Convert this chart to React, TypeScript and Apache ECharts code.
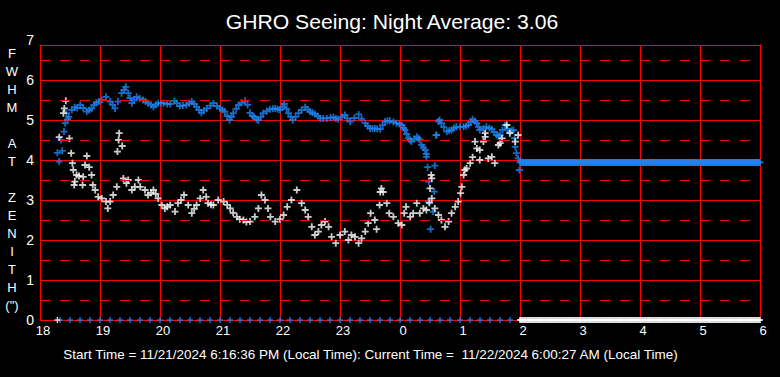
import React, { useEffect, useRef } from "react";
import * as echarts from "echarts";

const TITLE = "GHRO Seeing: Night Average: 3.06";
const FOOTER =
  "Start Time = 11/21/2024 6:16:36 PM (Local Time): Current Time =  11/22/2024 6:00:27 AM (Local Time)";
const Y_TITLE_LINES = ["F", "W", "H", "M", " ", "A", "T", " ", "Z", "E", "N", "I", "T", "H", "(\")"];

// hours since midnight of start day (24+ = next morning)
const X_MIN = 18;
const X_MAX = 30;
const Y_LABEL_MAX = 7;
const Y_PLOT_MAX = 6.875;
const HALF_LEVELS = [0.5, 1.5, 2.5, 3.5, 4.5, 5.5, 6.5];

// blue seeing samples [hour, FWHM]
const blueSeeing: [number, number][] = [
  [18.29, 4.18], [18.32, 3.96], [18.35, 4.5], [18.37, 4.23], [18.4, 4.71], [18.42, 4.92],
  [18.44, 5.17], [18.46, 5.02], [18.48, 5.08], [18.53, 5.25], [18.58, 5.32], [18.62, 5.3],
  [18.67, 5.38], [18.72, 5.3], [18.78, 5.21], [18.82, 5.25], [18.86, 5.29], [18.9, 5.38],
  [18.94, 5.43], [18.98, 5.46], [19.03, 5.5], [19.1, 5.58], [19.17, 5.46], [19.21, 5.38],
  [19.25, 5.29], [19.3, 5.46], [19.36, 5.67], [19.4, 5.75], [19.43, 5.83], [19.47, 5.67],
  [19.5, 5.55], [19.53, 5.42], [19.57, 5.5], [19.61, 5.58], [19.66, 5.54], [19.72, 5.5],
  [19.76, 5.46], [19.8, 5.42], [19.85, 5.38], [19.89, 5.33], [19.93, 5.38], [19.97, 5.42],
  [20.02, 5.42], [20.06, 5.42], [20.12, 5.4], [20.17, 5.4], [20.24, 5.48], [20.28, 5.42],
  [20.33, 5.35], [20.38, 5.36], [20.44, 5.375], [20.49, 5.42], [20.53, 5.46], [20.57, 5.4],
  [20.61, 5.33], [20.65, 5.25], [20.69, 5.18], [20.73, 5.24], [20.78, 5.29], [20.84, 5.36],
  [20.89, 5.42], [20.95, 5.35], [21.0, 5.29], [21.04, 5.25], [21.08, 5.21], [21.12, 5.1],
  [21.16, 5.0], [21.19, 5.08], [21.22, 5.17], [21.27, 5.28], [21.31, 5.375], [21.36, 5.43],
  [21.42, 5.48], [21.46, 5.38], [21.5, 5.18], [21.54, 5.1], [21.57, 5.08], [21.61, 5.02],
  [21.64, 4.99], [21.68, 5.08], [21.72, 5.17], [21.78, 5.22], [21.83, 5.27], [21.88, 5.28],
  [21.92, 5.29], [21.96, 5.27], [22.0, 5.25], [22.04, 5.33], [22.07, 5.4], [22.11, 5.28],
  [22.14, 5.17], [22.18, 5.08], [22.21, 5.0], [22.26, 5.08], [22.31, 5.17], [22.36, 5.25],
  [22.42, 5.32], [22.46, 5.26], [22.5, 5.21], [22.54, 5.18], [22.58, 5.15], [22.63, 5.1],
  [22.67, 5.04], [22.72, 5.04], [22.78, 5.04], [22.84, 5.06], [22.89, 5.07], [22.93, 5.04],
  [22.97, 5.02], [23.03, 5.08], [23.08, 5.125], [23.12, 5.04], [23.17, 4.96], [23.24, 5.05],
  [23.31, 5.14], [23.36, 5.03], [23.42, 4.92], [23.46, 4.85], [23.5, 4.79], [23.54, 4.79],
  [23.58, 4.79], [23.62, 4.78], [23.67, 4.77], [23.71, 4.87], [23.75, 4.96], [23.79, 4.98],
  [23.83, 4.98], [23.89, 4.95], [23.94, 4.92], [23.99, 4.9], [24.03, 4.875], [24.06, 4.8],
  [24.08, 4.75], [24.11, 4.65], [24.14, 4.54], [24.17, 4.5], [24.19, 4.46], [24.24, 4.53],
  [24.28, 4.58], [24.31, 4.54], [24.33, 4.5], [24.36, 4.375], [24.39, 4.31], [24.42, 4.25],
  [24.44, 4.15], [24.61, 4.625], [24.64, 4.96], [24.66, 5.0], [24.69, 4.92], [24.73, 4.82],
  [24.78, 4.71], [24.82, 4.73], [24.86, 4.75], [24.9, 4.8], [24.94, 4.83], [25.0, 4.83],
  [25.06, 4.83], [25.1, 4.85], [25.14, 4.875], [25.18, 4.95], [25.21, 5.02], [25.25, 4.97],
  [25.28, 4.92], [25.31, 4.83], [25.33, 4.75], [25.39, 4.79], [25.44, 4.83], [25.49, 4.8],
  [25.53, 4.77], [25.57, 4.7], [25.61, 4.625], [25.64, 4.6], [25.67, 4.625], [25.71, 4.75],
  [25.75, 4.875], [25.79, 4.78], [25.83, 4.71], [25.86, 4.73], [25.89, 4.75], [25.91, 4.55],
  [25.92, 4.33], [25.94, 4.17], [25.97, 4.04], [25.99, 3.75],
];

// scattered blue drop-outs near midnight
const blueScatter: [number, number][] = [
  [24.44, 4.08], [24.46, 3.82], [24.58, 3.86], [24.48, 3.46], [24.57, 3.21],
  [24.47, 2.96], [24.55, 2.71], [24.51, 2.27], [24.6, 4.62],
];

// white seeing samples [hour, FWHM]
const whiteSeeing: [number, number][] = [
  [18.32, 4.57], [18.39, 5.17], [18.405, 5.29], [18.43, 5.48], [18.49, 4.54], [18.52, 4.17],
  [18.54, 3.92], [18.555, 3.75], [18.58, 3.46], [18.57, 3.375], [18.61, 3.625], [18.65, 3.6],
  [18.72, 3.58], [18.71, 3.375], [18.75, 3.875], [18.78, 4.1], [18.82, 3.82], [18.86, 3.625],
  [18.88, 3.375], [18.92, 3.25], [18.97, 3.08], [19.03, 3.04], [19.1, 2.96], [19.13, 2.79],
  [19.17, 2.96], [19.22, 3.125], [19.28, 3.33], [19.32, 4.67], [19.31, 4.5], [19.37, 4.35],
  [19.29, 4.21], [19.39, 3.54], [19.44, 3.42], [19.47, 3.5], [19.53, 3.25], [19.58, 3.33],
  [19.64, 3.5], [19.67, 3.33], [19.75, 3.25], [19.8, 3.125], [19.85, 3.18], [19.89, 3.25],
  [19.93, 3.15], [19.97, 3.04], [20.03, 2.875], [20.08, 2.79], [20.12, 2.83], [20.17, 2.875],
  [20.25, 2.71], [20.3, 2.92], [20.35, 3.0], [20.4, 3.125], [20.47, 2.875], [20.53, 2.67],
  [20.57, 2.78], [20.61, 2.875], [20.67, 3.04], [20.72, 3.25], [20.77, 3.08], [20.8, 2.92],
  [20.85, 2.88], [20.89, 2.875], [20.97, 3.0], [21.06, 2.96], [21.12, 2.88], [21.17, 2.79],
  [21.22, 2.68], [21.28, 2.58], [21.33, 2.52], [21.39, 2.5], [21.44, 2.45], [21.5, 2.46],
  [21.58, 2.58], [21.64, 2.79], [21.69, 3.125], [21.75, 3.0], [21.8, 2.79], [21.84, 2.58],
  [21.92, 2.46], [22.0, 2.52], [22.06, 2.625], [22.12, 2.83], [22.19, 3.0], [22.28, 3.25],
  [22.36, 2.92], [22.42, 2.75], [22.47, 2.58], [22.53, 2.33], [22.58, 2.125], [22.64, 2.21],
  [22.69, 2.375], [22.75, 2.46], [22.81, 2.33], [22.86, 2.08], [22.93, 1.92], [23.0, 2.125],
  [23.08, 2.21], [23.14, 2.0], [23.19, 2.125], [23.25, 2.08], [23.31, 1.92], [23.36, 2.04],
  [23.42, 2.21], [23.47, 2.42], [23.51, 2.67], [23.58, 2.5], [23.61, 2.27], [23.66, 2.875],
  [23.69, 3.29], [23.67, 3.2], [23.72, 3.2], [23.78, 2.92], [23.82, 2.67], [23.89, 2.58],
  [23.97, 2.42], [24.03, 2.375], [24.07, 2.67], [24.1, 2.83], [24.17, 2.58], [24.22, 2.67],
  [24.28, 2.92], [24.33, 2.67], [24.39, 2.79], [24.44, 2.75], [24.49, 2.93], [24.5, 3.29],
  [24.53, 3.54], [24.52, 3.625], [24.53, 3.04], [24.58, 2.79], [24.64, 2.625], [24.69, 2.5],
  [24.75, 2.33], [24.81, 2.46], [24.86, 2.67], [24.92, 2.83], [24.97, 2.96], [25.01, 3.17],
  [25.03, 3.33], [25.06, 3.625], [25.08, 3.75], [25.11, 3.79], [25.17, 3.92], [25.21, 4.07],
  [25.25, 4.46], [25.28, 4.29], [25.33, 4.0], [25.33, 4.25], [25.39, 4.46], [25.42, 4.67],
  [25.42, 4.58], [25.47, 4.04], [25.53, 4.08], [25.58, 3.92], [25.64, 4.375], [25.67, 4.42],
  [25.7, 4.54], [25.78, 4.875], [25.83, 4.67], [25.92, 4.46], [25.97, 4.625],
];

// after 2 AM the blue trace holds a constant level
const HOLD_START = 26;
const HOLD_END = 30;
const HOLD_VALUE = 3.94;
const HOLD_STEP_MIN = 1;

// zero-level markers
const ZERO_BLUE_START = 18 + 20 / 60;
const ZERO_BLUE_STEP_MIN = 10;
const ZERO_WHITE_FIRST = 18.29;

const BLUE = "#1e86f2";
const WHITE = "#ffffff";
const RED = "#ff0000";
const FONT = "'Liberation Sans', Arial, sans-serif";

const PLUS = "path://M2.6,0H4.4V2.6H7V4.4H4.4V7H2.6V4.4H0V2.6H2.6Z";

function timesEvery(start: number, end: number, stepMin: number): number[] {
  const out: number[] = [];
  for (let t = start; t <= end + 1e-9; t += stepMin / 60) out.push(+t.toFixed(4));
  return out;
}

function measure(text: string, font: string): number {
  const c = document.createElement("canvas");
  const ctx = c.getContext("2d");
  if (!ctx) return 1;
  ctx.font = font;
  return ctx.measureText(text).width;
}

export default function App() {
  const ref = useRef<HTMLDivElement>(null);

  useEffect(() => {
    if (!ref.current) return;
    const chart = echarts.init(ref.current, undefined, { renderer: "svg" });

    const holdData = timesEvery(HOLD_START, HOLD_END, HOLD_STEP_MIN).map((t) => [t, HOLD_VALUE]);
    const zeroBlue = timesEvery(ZERO_BLUE_START, X_MAX, ZERO_BLUE_STEP_MIN).map((t) => [t, 0]);
    const zeroWhite = [[ZERO_WHITE_FIRST, 0], ...timesEvery(HOLD_START, HOLD_END, HOLD_STEP_MIN).map((t) => [t, 0])];

    const footerFont = `12px ${FONT}`;
    const footerW = measure(FOOTER, footerFont);
    const footerScale = footerW > 0 ? 617 / footerW : 1;

    const titleFont = `20px ${FONT}`;
    const titleW = measure(TITLE, titleFont);
    const titleScale = titleW > 0 ? 334 / titleW : 1;

    const scatterBase = {
      type: "scatter" as const,
      xAxisIndex: 0,
      yAxisIndex: 0,
      symbol: PLUS,
      symbolSize: 7,
      silent: true,
    };

    chart.setOption({
      animation: false,
      backgroundColor: "#000000",
      textStyle: { fontFamily: FONT },
      grid: [
        { left: 40, right: 20, top: 45, bottom: 57, show: false },
        { left: 40, right: 20, top: 40, bottom: 57, show: false },
      ],
      xAxis: [
        {
          gridIndex: 0,
          type: "value",
          min: X_MIN,
          max: X_MAX,
          interval: 1,
          position: "bottom",
          axisLine: { show: true, lineStyle: { color: RED, width: 1 } },
          axisTick: { show: false },
          axisLabel: {
            color: WHITE,
            fontSize: 13,
            fontFamily: FONT,
            margin: 4,
            padding: [0, 0, 0, 6],
            formatter: (v: number) => String(Math.round(v) % 24),
          },
          splitLine: { show: true, lineStyle: { color: RED, width: 1 } },
        },
        {
          gridIndex: 0,
          type: "value",
          min: X_MIN,
          max: X_MAX,
          position: "top",
          axisLine: { show: true, onZero: false, lineStyle: { color: RED, width: 1 } },
          axisTick: { show: false },
          axisLabel: { show: false },
          splitLine: { show: false },
        },
        { gridIndex: 1, type: "value", min: X_MIN, max: X_MAX, show: false },
      ],
      yAxis: [
        {
          gridIndex: 0,
          type: "value",
          min: 0,
          max: Y_PLOT_MAX,
          interval: 1,
          position: "left",
          axisLine: { show: true, onZero: false, lineStyle: { color: RED, width: 1 } },
          axisTick: { show: false },
          axisLabel: { show: false },
          splitLine: { show: true, lineStyle: { color: RED, width: 1 } },
        },
        {
          gridIndex: 0,
          type: "value",
          min: 0,
          max: Y_PLOT_MAX,
          position: "right",
          axisLine: { show: true, onZero: false, lineStyle: { color: RED, width: 1 } },
          axisTick: { show: false },
          axisLabel: { show: false },
          splitLine: { show: false },
        },
        {
          gridIndex: 1,
          type: "value",
          min: 0,
          max: Y_LABEL_MAX,
          interval: 1,
          position: "left",
          axisLine: { show: false },
          axisTick: { show: false },
          splitLine: { show: false },
          axisLabel: { color: WHITE, fontSize: 14, fontFamily: FONT, margin: 6 },
        },
      ],
      series: [
        {
          type: "scatter",
          xAxisIndex: 0,
          yAxisIndex: 0,
          data: [],
          silent: true,
          z: 1,
          markLine: {
            silent: true,
            symbol: "none",
            label: { show: false },
            lineStyle: { color: RED, width: 1, type: [10, 10], dashOffset: 0 },
            data: HALF_LEVELS.map((v) => ({ yAxis: v })),
          },
        },
        { ...scatterBase, name: "zeroBlue", data: zeroBlue, itemStyle: { color: BLUE }, symbolSize: 6 },
        { ...scatterBase, name: "zeroWhite", data: zeroWhite, itemStyle: { color: WHITE }, symbolSize: 6 },
        { ...scatterBase, name: "blue", data: blueSeeing, itemStyle: { color: BLUE } },
        { ...scatterBase, name: "blueScatter", data: blueScatter, itemStyle: { color: BLUE } },
        { ...scatterBase, name: "hold", data: holdData, itemStyle: { color: BLUE } },
        { ...scatterBase, name: "white", data: whiteSeeing, itemStyle: { color: WHITE } },
      ],
      graphic: [
        {
          type: "text",
          x: 392,
          y: 22,
          scaleX: titleScale,
          style: {
            text: TITLE,
            fill: WHITE,
            font: titleFont,
            align: "center",
            verticalAlign: "middle",
          },
        },
        {
          type: "text",
          x: 12,
          y: 44,
          style: {
            text: Y_TITLE_LINES.join("\n"),
            fill: WHITE,
            font: `13px ${FONT}`,
            lineHeight: 18,
            align: "center",
            verticalAlign: "top",
          },
        },
        {
          type: "text",
          x: 370.5,
          y: 355,
          scaleX: footerScale,
          style: {
            text: FOOTER,
            fill: WHITE,
            font: footerFont,
            align: "center",
            verticalAlign: "middle",
          },
        },
      ],
    });

    return () => chart.dispose();
  }, []);

  return (
    <div
      ref={ref}
      style={{ position: "absolute", left: 0, top: 0, width: 780, height: 377 }}
    />
  );
}
